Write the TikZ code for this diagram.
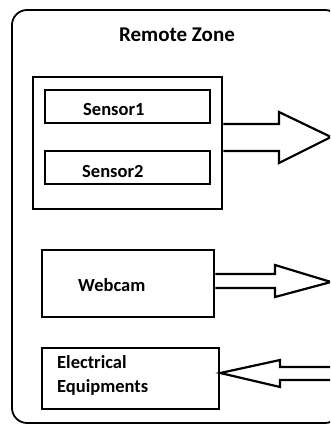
\documentclass[tikz,border=0pt]{standalone}
\usepackage{fontspec}
\setmainfont{Carlito}
\usetikzlibrary{calc}

\begin{document}
\begin{tikzpicture}[x=1pt, y=-1pt,
    zone/.style={line width=1.8pt, rounded corners=15pt},
    outerbox/.style={draw, line width=2.6pt, inner sep=0pt},
    innerbox/.style={draw, line width=1.1pt, inner sep=0pt},
    lbl/.style={font=\bfseries\fontsize{18.5}{24}\selectfont, inner sep=0pt, anchor=base west},
    blockarrow/.style={line width=2.2pt, line join=miter}]
    \useasboundingbox (0,0) rectangle (330,426);
    \clip (0,0) rectangle (330,426);

    \draw[zone] (12,10) rectangle (340,423);
    \node[font=\bfseries\fontsize{21}{24}\selectfont, inner sep=0pt, anchor=base] (title) at (177,41) {Remote Zone};

    % sensor group
    \node[outerbox, minimum width=189pt, minimum height=132pt] (sensors) at (127.5,143) {};
    \node[innerbox, minimum width=165pt, minimum height=33pt] (sensor1) at (127.5,106.5) {};
    \node[innerbox, minimum width=165pt, minimum height=33pt] (sensor2) at (127.5,167.5) {};
    \node[lbl] (s1text) at (83,115) {Sensor1};
    \node[lbl] (s2text) at (82,177) {Sensor2};

    % webcam and equipments
    \node[outerbox, minimum width=172pt, minimum height=67pt] (webcam) at (128,283.5) {};
    \node[lbl] (wtext) at (78,291) {Webcam};
    \node[outerbox, minimum width=177pt, minimum height=61pt] (elec) at (130.5,378.5) {};
    \node[lbl, align=left, anchor=north west] (etext) at (57,355) {Electrical\\Equipments};

    % block arrows
    \coordinate (out1) at (331,137);
    \coordinate (out2) at (331,282);
    \coordinate (in3) at (elec.east |- 0,373);
    \draw[blockarrow] (sensors.east |- 0,124) -- (279,124) -- (279,112) -- (out1)
        -- (279,163) -- (279,151) -- (sensors.east |- 0,151);
    \draw[blockarrow] (webcam.east |- 0,274) -- (275,274) -- (275,265) -- (out2)
        -- (275,297) -- (275,288) -- (webcam.east |- 0,288);
    \draw[blockarrow] (332,367) -- (280,367) -- (280,360) -- (in3)
        -- (280,387) -- (280,380) -- (332,380);
\end{tikzpicture}
\end{document}
